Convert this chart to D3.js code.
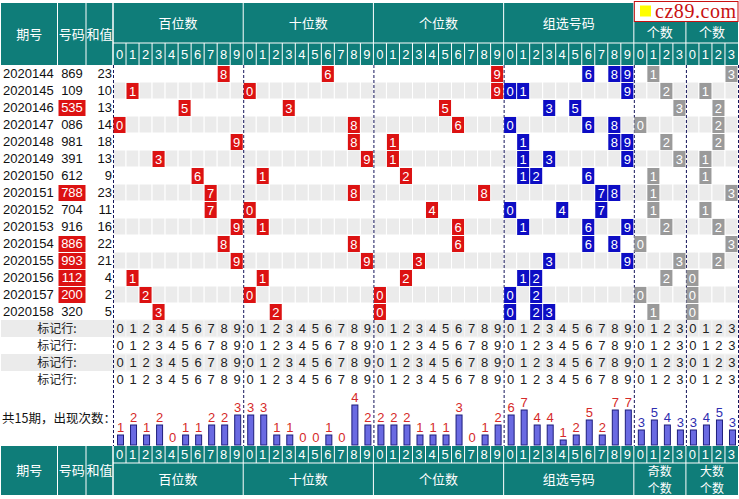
<!DOCTYPE html>
<html>
<head>
<meta charset="utf-8">
<script src="https://cdn.jsdelivr.net/npm/d3@7"></script>
<style>
  html, body { margin: 0; padding: 0; background: #fff; }
  svg { display: block; }
  text { font-family: "Liberation Sans", Arial, sans-serif; }
  .cjk { font-family: "Noto Sans CJK SC", sans-serif; }
</style>
</head>
<body>
<svg id="chart" width="739" height="499"></svg>
<script>
// 3D 走势图 — 百/十/个位分布, 组选号码, 奇数个数, 大数个数

const issues = ["2020144", "2020145", "2020146", "2020147", "2020148", "2020149", "2020150",
  "2020151", "2020152", "2020153", "2020154", "2020155", "2020156", "2020157", "2020158"];
const numbers = ["869", "109", "535", "086", "981", "391", "612", "788", "704", "916",
  "886", "993", "112", "200", "320"];
const sums = [23, 10, 13, 14, 18, 13, 9, 23, 11, 16, 22, 21, 4, 2, 5];
const oddPerRow = [1, 2, 3, 0, 2, 3, 1, 1, 1, 2, 0, 3, 2, 0, 1];
const bigPerRow = [3, 1, 2, 2, 2, 1, 1, 3, 1, 2, 3, 2, 0, 0, 0];

const hundredsCounts = [1, 2, 1, 2, 0, 1, 1, 2, 2, 3];
const tensCounts = [3, 3, 1, 1, 0, 0, 1, 0, 4, 2];
const unitsCounts = [2, 2, 2, 1, 1, 1, 3, 0, 1, 2];
const groupCounts = [6, 7, 4, 4, 1, 2, 5, 2, 7, 7];
const oddCounts = [3, 5, 4, 3];
const bigCounts = [3, 4, 5, 3];

const digitTicks = ["0", "1", "2", "3", "4", "5", "6", "7", "8", "9"];
const countTicks = ["0", "1", "2", "3"];
const markRows = ["标记行:", "标记行:", "标记行:", "标记行:"];

const teal = "#0f7d79";
const red = "#dc1212";
const blue = "#0d0dc4";
const grey = "#9a9a9a";
const rowGrey = "#ebebeb";

// 每个分组: 刻度, 统计, 每行命中的数字, 方块颜色
const groups = [
  { title: ["百位数"], ticks: digitTicks, counts: hundredsCounts, unit: 10, fill: red, lab: "#d52a2a",
    hits: (i) => [+numbers[i][0]] },
  { title: ["十位数"], ticks: digitTicks, counts: tensCounts, unit: 10, fill: red, lab: "#d52a2a",
    hits: (i) => [+numbers[i][1]] },
  { title: ["个位数"], ticks: digitTicks, counts: unitsCounts, unit: 10, fill: red, lab: "#d52a2a",
    hits: (i) => [+numbers[i][2]] },
  { title: ["组选号码"], ticks: digitTicks, counts: groupCounts, unit: 5, fill: blue, lab: "#d52a2a",
    hits: (i) => Array.from(new Set(numbers[i].split("").map(Number))) },
  { title: ["奇数", "个数"], ticks: countTicks, counts: oddCounts, unit: 5, fill: grey, lab: "#2e2eb0",
    hits: (i) => [oddPerRow[i]] },
  { title: ["大数", "个数"], ticks: countTicks, counts: bigCounts, unit: 5, fill: grey, lab: "#2e2eb0",
    hits: (i) => [bigPerRow[i]] },
];
let acc = 0;
groups.forEach((g) => { g.start = acc; acc += g.ticks.length; });
const nCols = acc;

const svg = d3.select("#chart");

// 布局
const left = 1, right = 738;
const colEdges = [left, 57.5, 86, 113];
const headTop = 3, headMid = 43, headBot = 65;
const rowH = 17;
const dataBot = headBot + rowH * issues.length;           // 320
const markBot = dataBot + rowH * markRows.length;         // 388
const footTop = 446, footMid = 463, footBot = 495;

const x = d3.scaleLinear().domain([0, nCols]).range([113, right]);
const cw = x(1) - x(0);
const y = d3.scaleBand().domain(issues).range([headBot, dataBot]);
const yMark = d3.scaleBand().domain(d3.range(markRows.length)).range([dataBot, markBot]);

// ---------- 行背景 ----------
issues.forEach((iss, i) => {
  if (i % 2 === 1) {
    d3.range(nCols).forEach((c) => {
      svg.append("rect").attr("x", x(c)).attr("y", y(iss)).attr("width", cw).attr("height", rowH)
        .attr("fill", rowGrey).attr("stroke", "#fff").attr("stroke-width", 1);
    });
  }
});
markRows.forEach((m, r) => {
  if (r % 2 === 0) {
    svg.append("rect").attr("x", left).attr("y", yMark(r)).attr("width", 112).attr("height", rowH)
      .attr("fill", rowGrey);
    d3.range(nCols).forEach((c) => {
      svg.append("rect").attr("x", x(c)).attr("y", yMark(r)).attr("width", cw).attr("height", rowH)
        .attr("fill", rowGrey).attr("stroke", "#f6f6f6").attr("stroke-width", 1);
    });
  }
});

// ---------- 分组虚线 ----------
groups.map((g) => g.start).concat([nCols]).forEach((c) => {
  svg.append("line").attr("x1", x(c) + 0.5).attr("x2", x(c) + 0.5)
    .attr("y1", headBot).attr("y2", footTop)
    .attr("stroke", "#14145a").attr("stroke-width", 1).attr("stroke-dasharray", "3,2");
});

// ---------- 数据行 ----------
issues.forEach((iss, i) => {
  const cy = y(iss) + rowH / 2;
  svg.append("text").attr("x", 3).attr("y", cy).attr("dy", "0.36em")
    .style("font-size", "13px").attr("fill", "#111").text(iss);

  const pair = new Set(numbers[i]).size < 3;
  if (pair) {
    svg.append("rect").attr("x", 58.5).attr("y", y(iss) + 1).attr("width", 27).attr("height", rowH - 1)
      .attr("fill", red);
  }
  svg.append("text").attr("x", 72).attr("y", cy).attr("dy", "0.36em").attr("text-anchor", "middle")
    .style("font-size", "13px").attr("fill", pair ? "#fff" : "#111").text(numbers[i]);
  svg.append("text").attr("x", 112).attr("y", cy).attr("dy", "0.36em").attr("text-anchor", "end")
    .style("font-size", "13px").attr("fill", "#111").text(sums[i]);

  groups.forEach((g) => {
    g.hits(i).forEach((d) => {
      const c = g.start + d;
      svg.append("rect").attr("x", x(c) + 0.5).attr("y", y(iss) + 1).attr("width", cw - 1).attr("height", rowH - 1)
        .attr("fill", g.fill);
      svg.append("text").attr("x", x(c) + cw / 2).attr("y", cy + 0.5).attr("dy", "0.36em")
        .attr("text-anchor", "middle").style("font-size", "13px").attr("fill", "#fff").text(g.ticks[d]);
    });
  });
});

// ---------- 标记行 ----------
markRows.forEach((m, r) => {
  const cy = yMark(r) + rowH / 2;
  svg.append("text").attr("class", "cjk").attr("x", 57).attr("y", cy).attr("dy", "0.36em")
    .attr("text-anchor", "middle").style("font-size", "12px").attr("fill", "#222").text(m);
  groups.forEach((g) => {
    g.ticks.forEach((t, k) => {
      svg.append("text").attr("x", x(g.start + k) + cw / 2 + 0.5).attr("y", cy).attr("dy", "0.36em")
        .attr("text-anchor", "middle").style("font-size", "13px").attr("fill", "#222").text(t);
    });
  });
});

// ---------- 出现次数柱状 ----------
svg.append("text").attr("class", "cjk").attr("x", 2).attr("y", 418).attr("dy", "0.36em")
  .style("font-size", "12.5px").attr("fill", "#111").text("共15期，出现次数：");

const barBase = footTop - 1;
groups.forEach((g) => {
  const h = d3.scaleLinear().domain([0, 1]).range([0, g.unit]);
  g.counts.forEach((v, k) => {
    const cx = x(g.start + k) + cw / 2 + 1;
    if (v > 0) {
      svg.append("rect").attr("x", cx - 3).attr("y", barBase - h(v)).attr("width", 6).attr("height", h(v))
        .attr("fill", "#6a6ae2").attr("stroke", "#1e1e7c").attr("stroke-width", 1);
    }
    svg.append("text").attr("x", cx).attr("y", barBase - h(v) - 3)
      .attr("text-anchor", "middle").style("font-size", "13px").attr("fill", g.lab).text(v);
  });
});

// ---------- 表头 / 表尾 ----------
function drawBand(top, mid, bot, flip) {
  svg.append("rect").attr("x", left).attr("y", top).attr("width", right - left).attr("height", bot - top)
    .attr("fill", teal);
  const tickTop = flip ? top : mid, tickBot = flip ? mid : bot;
  const titleTop = flip ? mid : top, titleBot = flip ? bot : mid;
  // 左侧三列
  [colEdges[1], colEdges[2], colEdges[3]].forEach((e) => {
    svg.append("line").attr("x1", e).attr("x2", e).attr("y1", top).attr("y2", bot)
      .attr("stroke", "#fff");
  });
  svg.append("line").attr("x1", x(0)).attr("x2", right).attr("y1", mid).attr("y2", mid).attr("stroke", "#fff");
  ["期号", "号码", "和值"].forEach((t, k) => {
    svg.append("text").attr("class", "cjk").attr("x", (colEdges[k] + colEdges[k + 1]) / 2)
      .attr("y", (top + bot) / 2).attr("dy", "0.36em").attr("text-anchor", "middle")
      .style("font-size", "13px").attr("fill", "#fff").text(t);
  });
  groups.forEach((g) => {
    const x0 = x(g.start), x1 = x(g.start + g.ticks.length);
    svg.append("line").attr("x1", x0).attr("x2", x0).attr("y1", top).attr("y2", bot).attr("stroke", "#fff");
    g.ticks.forEach((t, k) => {
      const cx = x(g.start + k);
      if (k > 0) {
        svg.append("line").attr("x1", cx).attr("x2", cx).attr("y1", tickTop).attr("y2", tickBot)
          .attr("stroke", "#fff");
      }
      svg.append("text").attr("x", cx + cw / 2).attr("y", (tickTop + tickBot) / 2).attr("dy", "0.36em")
        .attr("text-anchor", "middle").style("font-size", "13px").attr("fill", "#fff").text(t);
    });
    // 表头右侧两组被标志遮住 "奇数"/"大数", 只显示 "个数"
    let lines = g.title;
    let tTop = titleTop;
    if (!flip && lines.length > 1) { lines = [lines[1]]; tTop = 22; }
    const lh = 16.5;
    const cyc = (tTop + titleBot) / 2 + (lines.length > 1 ? 1 : 0);
    lines.forEach((t, li) => {
      svg.append("text").attr("class", "cjk").attr("x", (x0 + x1) / 2)
        .attr("y", cyc + (li - (lines.length - 1) / 2) * lh).attr("dy", "0.36em")
        .attr("text-anchor", "middle").style("font-size", lines.length > 1 ? "12px" : "13px")
        .attr("fill", "#fff").text(t);
    });
  });
}
drawBand(headTop, headMid, headBot, false);
drawBand(footTop, footMid, footBot, true);

// 标志
svg.append("rect").attr("x", x(groups[4].start) + 0.5).attr("y", 1.5).attr("width", right - x(groups[4].start) - 0.5)
  .attr("height", 20).attr("fill", "#fff").attr("stroke", "#c81010").attr("stroke-width", 1);
svg.append("rect").attr("x", 640).attr("y", 5.5).attr("width", 11).attr("height", 11).attr("fill", "#ffff00");
svg.append("text").attr("x", 655).attr("y", 17.5).attr("textLength", 81)
  .style("font-family", "'Liberation Serif', serif").style("font-size", "20px")
  .attr("fill", "#c81010").text("cz89.com");
</script>
</body>
</html>
